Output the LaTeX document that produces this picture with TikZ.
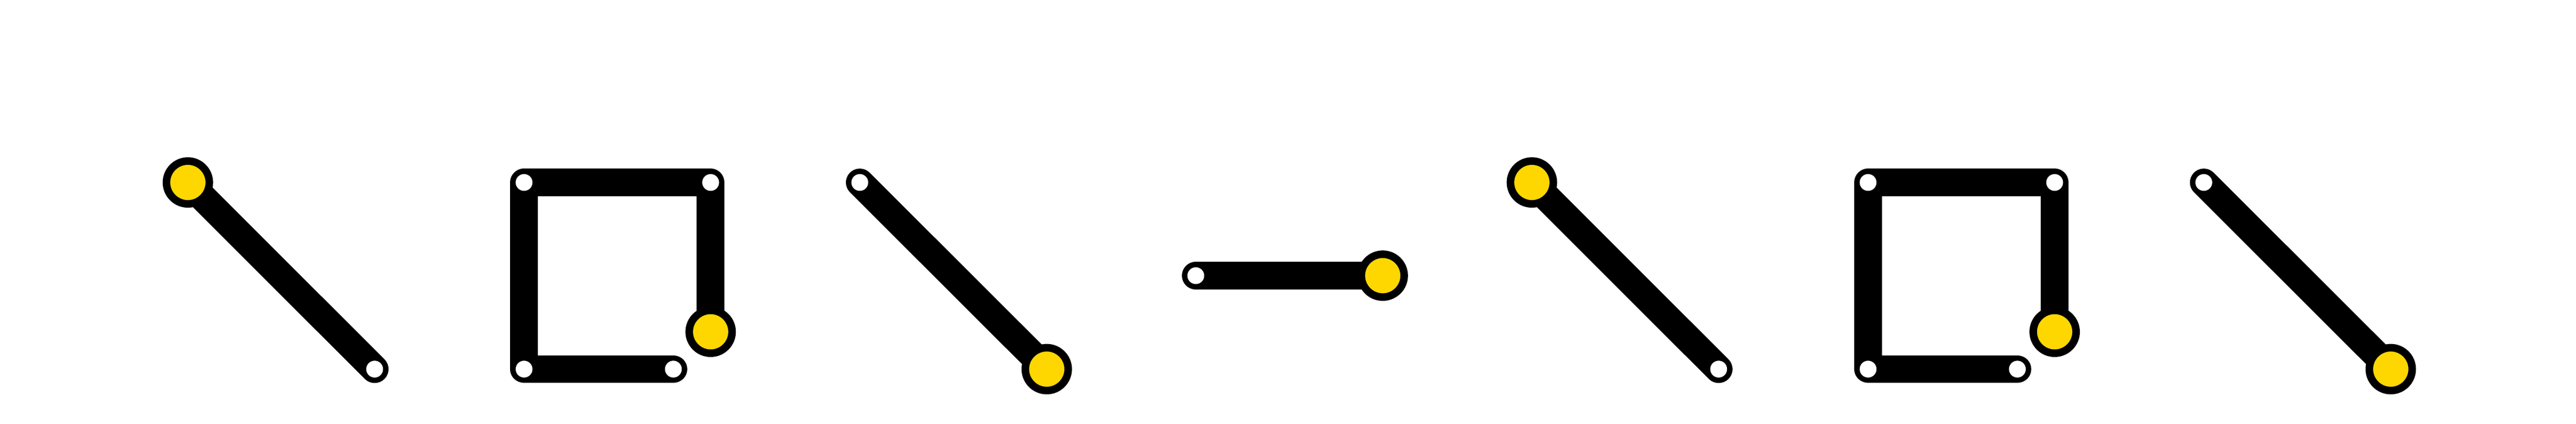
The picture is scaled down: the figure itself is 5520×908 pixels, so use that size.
\documentclass[tikz,border=0pt]{standalone}
\definecolor{jointgold}{HTML}{FFD700}
\tikzset{
  link/.style={draw=black, line width=0.595cm, line cap=round, line join=round},
  pin/.style={circle, fill=white, draw=none, inner sep=0pt, minimum size=0.36cm},
  effector/.style={circle, fill=jointgold, draw=black, line width=0.162cm, inner sep=0pt, minimum size=0.918cm}
}
\begin{document}
\begin{tikzpicture}[x=0.01cm, y=-0.01cm]
\useasboundingbox[fill=white] (0,0) rectangle (5520,908);
\foreach \o/\s in {0/a, 2880/b} {
  % single diagonal link, effector at the top
  \coordinate (e1\s) at (402.6+\o, 391);
  \coordinate (p1\s) at (802.8+\o, 791);
  \draw[link] (e1\s) -- (p1\s);
  \node[pin] (P1\s) at (p1\s) {};
  \node[effector] (E1\s) at (e1\s) {};
  % square chain
  \coordinate (tl\s) at (1123+\o, 391);
  \coordinate (tr\s) at (1522.8+\o, 391);
  \coordinate (bl\s) at (1123+\o, 791);
  \coordinate (br\s) at (1442.9+\o, 791);
  \coordinate (e2\s) at (1522.8+\o, 711);
  \draw[link] (br\s) -- (bl\s) -- (tl\s) -- (tr\s) -- (e2\s);
  \node[pin] (TL\s) at (tl\s) {};
  \node[pin] (TR\s) at (tr\s) {};
  \node[pin] (BL\s) at (bl\s) {};
  \node[pin] (BR\s) at (br\s) {};
  \node[effector] (E2\s) at (e2\s) {};
  % single diagonal link, effector at the bottom
  \coordinate (p3\s) at (1842.4+\o, 391);
  \coordinate (e3\s) at (2243+\o, 791);
  \draw[link] (p3\s) -- (e3\s);
  \node[pin] (P3\s) at (p3\s) {};
  \node[effector] (E3\s) at (e3\s) {};
}
% horizontal link
\coordinate (p4) at (2562.4, 590.7);
\coordinate (e4) at (2963, 590.7);
\draw[link] (p4) -- (e4);
\node[pin] (P4) at (p4) {};
\node[effector] (E4) at (e4) {};
\end{tikzpicture}
\end{document}
